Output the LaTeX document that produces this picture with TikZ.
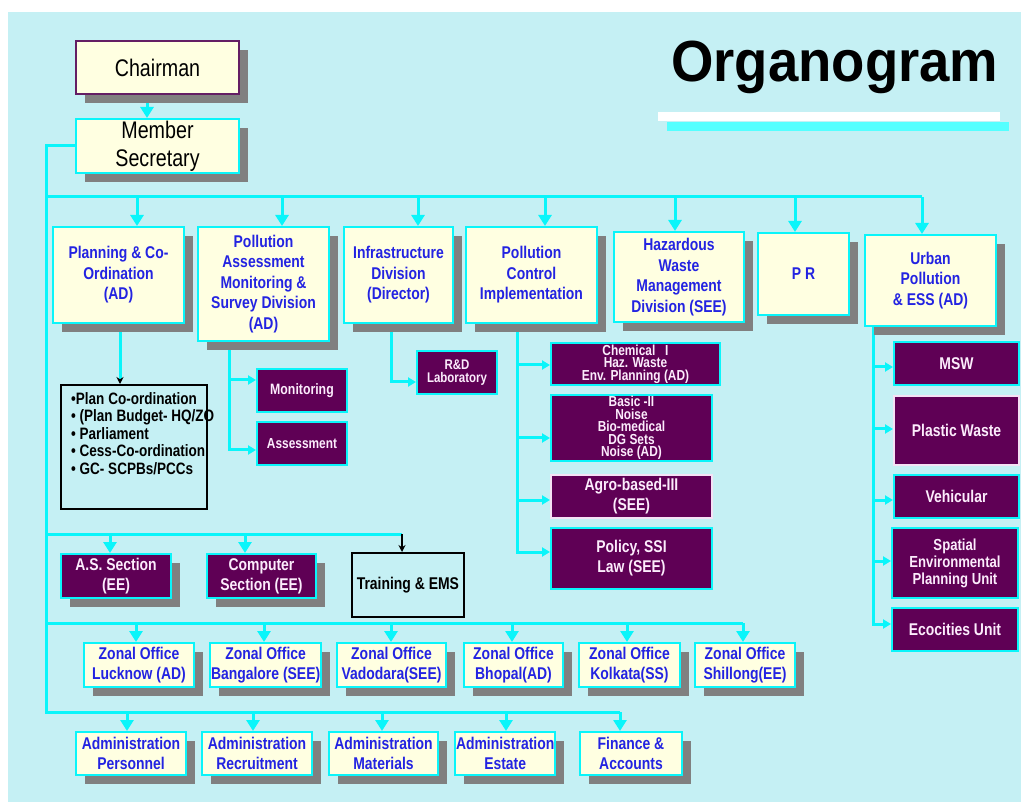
\documentclass[tikz,border=0pt]{standalone}
\usepackage{fontspec}
\setmainfont{Liberation Sans}[FakeStretch=0.82]
\newfontfamily\titlefont{Liberation Sans}[FakeStretch=0.94]
\usetikzlibrary{arrows.meta,shadows}
\pgfdeclarelayer{background}
\pgfsetlayers{background,main}

\definecolor{bgC}{RGB}{197,240,244}
\definecolor{lineC}{RGB}{10,245,250}
\definecolor{creamF}{RGB}{255,255,225}
\definecolor{purpF}{RGB}{95,0,85}
\definecolor{txtBlue}{RGB}{35,35,225}
\definecolor{txtWhite}{RGB}{252,236,252}
\definecolor{chairB}{RGB}{100,30,100}
\definecolor{shadowC}{RGB}{128,128,128}
\definecolor{ruleC}{RGB}{85,255,255}
\definecolor{paleB}{RGB}{245,225,245}

\tikzset{
  box/.style={line width=2pt, inner sep=1pt, align=center, anchor=north west},
  shadowed/.style={drop shadow={shadow xshift=9pt, shadow yshift=-9pt, fill=shadowC, opacity=1}},
  cream/.style={box, shadowed, draw=lineC, fill=creamF, text=txtBlue,
    font=\bfseries\fontsize{17}{20.5}\selectfont},
  purple/.style={box, draw=lineC, fill=purpF, text=txtWhite,
    font=\bfseries\fontsize{17}{20}\selectfont},
  tight/.style={font=\bfseries\fontsize{14.5}{12.5}\selectfont},
  outline/.style={box, draw=black, line width=1.8pt, text=black,
    font=\bfseries\fontsize{17}{20}\selectfont},
  bus/.style={draw=lineC, line width=3pt},
  conn/.style={bus, -{Triangle[width=13pt,length=11pt]}},
  side/.style={bus, -{Triangle[width=9pt,length=8pt]}},
  blackconn/.style={bus, -{Stealth[black,width=7pt,length=7pt]}},
  blackline/.style={draw=black, line width=1.4pt, -{Stealth[black,width=7pt,length=7pt]}},
  titletext/.style={anchor=base west, inner sep=0pt, font=\titlefont\bfseries\fontsize{58}{60}\selectfont}
}

\begin{document}
\begin{tikzpicture}[x=1pt,y=-1pt]
\useasboundingbox (0,0) rectangle (1021,802);
\begin{pgfonlayer}{background}
  \fill[white] (0,0) rectangle (1021,802);
  \fill[bgC] (8,12) rectangle (1021,802);
\end{pgfonlayer}

% title and the two rules beneath it
\node[titletext, text=black] (title) at (671,82) {Organogram};
\fill[white] (658,112) rectangle (1000,121);
\fill[ruleC] (667,122) rectangle (1009,131);

% head of the organisation
\node[cream, draw=chairB, text=black, font=\fontsize{24}{28}\selectfont,
      minimum width=163pt, minimum height=53pt] (chair) at (75,40) {Chairman};
\node[cream, text=black, font=\fontsize{24}{28}\selectfont,
      minimum width=163pt, minimum height=54pt] (msec) at (75,118) {Member\\Secretary};

% divisions
\node[cream, minimum width=131pt, minimum height=96pt] (plan) at (52,226) {Planning \& Co-\\Ordination\\(AD)};
\node[cream, minimum width=131pt, minimum height=114pt] (pams) at (197,226) {Pollution\\Assessment\\Monitoring \&\\Survey Division\\(AD)};
\node[cream, minimum width=109pt, minimum height=96pt] (infra) at (343,226) {Infrastructure\\Division\\(Director)};
\node[cream, minimum width=131pt, minimum height=96pt] (pci) at (465,226) {Pollution\\Control\\Implementation};
\node[cream, minimum width=130pt, minimum height=90pt] (hwm) at (613,231) {Hazardous\\Waste\\Management\\Division (SEE)};
\node[cream, minimum width=91pt, minimum height=82pt] (pr) at (757,232) {P R};
\node[cream, minimum width=131pt, minimum height=91pt] (urban) at (864,234) {Urban\\Pollution\\\& ESS (AD)};

% planning duties list
\node[outline, minimum width=146pt, minimum height=124pt] (plist) at (60,384) {};
\node[anchor=north west, inner sep=0pt, align=left, text=black,
      font=\bfseries\fontsize{16.5}{17.5}\selectfont] (plistText) at (71,392)
  {•Plan Co-ordination\\• (Plan Budget- HQ/ZO\\• Parliament\\• Cess-Co-ordination\\• GC- SCPBs/PCCs};

% units under the divisions
\node[purple, font=\bfseries\fontsize{15}{17}\selectfont, minimum width=90pt, minimum height=43pt] (mon) at (256,368) {Monitoring};
\node[purple, font=\bfseries\fontsize{14.5}{17}\selectfont, minimum width=90pt, minimum height=43pt] (asmt) at (256,421) {Assessment};
\node[purple, font=\bfseries\fontsize{14}{13}\selectfont, minimum width=80pt, minimum height=43pt] (rd) at (416,350) {R\&D\\Laboratory};

\node[purple, tight, minimum width=169pt, minimum height=42pt] (chem) at (550,342) {Chemical~~~I\\Haz. Waste\\Env. Planning (AD)};
\node[purple, tight, minimum width=161pt, minimum height=62pt] (basic) at (550,394) {Basic -II\\Noise\\Bio-medical\\DG Sets\\Noise (AD)};
\node[purple, draw=paleB, minimum width=161pt, minimum height=43pt] (agro) at (550,474) {Agro-based-III\\(SEE)};
\node[purple, minimum width=161pt, minimum height=61pt] (policy) at (550,527) {Policy, SSI\\Law (SEE)};

\node[purple, minimum width=125pt, minimum height=43pt] (msw) at (893,341) {MSW};
\node[purple, draw=paleB, minimum width=125pt, minimum height=69pt] (plastic) at (893,395) {Plastic Waste};
\node[purple, minimum width=125pt, minimum height=43pt] (vehic) at (893,474) {Vehicular};
\node[purple, font=\bfseries\fontsize{16}{17}\selectfont, minimum width=126pt, minimum height=70pt] (spatial) at (891,527) {Spatial\\Environmental\\Planning Unit};
\node[purple, minimum width=126pt, minimum height=43pt] (eco) at (891,607) {Ecocities Unit};

% sections
\node[purple, shadowed, minimum width=110pt, minimum height=44pt] (as) at (60,553) {A.S. Section\\(EE)};
\node[purple, shadowed, minimum width=109pt, minimum height=44pt] (comp) at (206,553) {Computer\\Section (EE)};
\node[outline, minimum width=112pt, minimum height=64pt] (train) at (351,552) {Training \& EMS};

% zonal offices
\node[cream, minimum width=110pt, minimum height=44pt] (lucknow) at (83,642) {Zonal Office\\Lucknow (AD)};
\node[cream, minimum width=110pt, minimum height=44pt] (bangalore) at (209,642) {Zonal Office\\Bangalore (SEE)};
\node[cream, minimum width=109pt, minimum height=44pt] (vadodara) at (336,642) {Zonal Office\\Vadodara(SEE)};
\node[cream, minimum width=99pt, minimum height=44pt] (bhopal) at (463,642) {Zonal Office\\Bhopal(AD)};
\node[cream, minimum width=101pt, minimum height=44pt] (kolkata) at (578,642) {Zonal Office\\Kolkata(SS)};
\node[cream, minimum width=100pt, minimum height=44pt] (shillong) at (694,642) {Zonal Office\\Shillong(EE)};

% administration
\node[cream, minimum width=110pt, minimum height=43pt] (personnel) at (75,731) {Administration\\Personnel};
\node[cream, minimum width=110pt, minimum height=43pt] (recruit) at (201,731) {Administration\\Recruitment};
\node[cream, minimum width=109pt, minimum height=43pt] (materials) at (328,731) {Administration\\Materials};
\node[cream, minimum width=99pt, minimum height=43pt] (estate) at (454,731) {Administration\\Estate};
\node[cream, minimum width=102pt, minimum height=43pt] (finance) at (579,731) {Finance \&\\Accounts};

% connectors run beneath the boxes and their shadows
\begin{pgfonlayer}{background}
  \coordinate (c0) at (147,0);
  \draw[conn] (chair.south -| c0) -- (msec.north -| c0);

  % main trunk down the left side, ending in the administration bus
  \coordinate (trunk) at (46,712);
  \coordinate (b4e) at (620,712);
  \draw[bus] (msec.west) -| (trunk) -- (b4e);

  % division bus
  \coordinate (b1w) at (46,197);
  \coordinate (b1e) at (922,197);
  \draw[bus] (b1w) -- (b1e);
  \foreach \n/\x in {plan/137, pams/282, infra/418, pci/545, hwm/675, pr/795, urban/922} {
    \coordinate (d\n) at (\x,197);
    \draw[conn] (d\n) -- (d\n |- \n.north);
  }

  % section bus
  \coordinate (b2w) at (46,534);
  \coordinate (b2e) at (402,534);
  \draw[bus] (b2w) -- (b2e);
  \foreach \n/\x in {as/110, comp/245} {
    \coordinate (d\n) at (\x,534);
    \draw[conn] (d\n) -- (d\n |- \n.north);
  }
  \draw[blackline] (b2e) -- (b2e |- train.north);

  % zonal office bus
  \coordinate (b3w) at (46,623);
  \coordinate (b3e) at (743,623);
  \draw[bus] (b3w) -- (b3e);
  \foreach \n/\x in {lucknow/136, bangalore/264, vadodara/391, bhopal/512, kolkata/627, shillong/743} {
    \coordinate (d\n) at (\x,623);
    \draw[conn] (d\n) -- (d\n |- \n.north);
  }

  % administration drops
  \foreach \n/\x in {personnel/127, recruit/253, materials/382, estate/506, finance/620} {
    \coordinate (d\n) at (\x,712);
    \draw[conn] (d\n) -- (d\n |- \n.north);
  }

  % planning to its list of duties
  \coordinate (pd) at (120,0);
  \draw[blackconn] (plan.south -| pd) -- (plist.north -| pd);

  % pollution assessment units
  \coordinate (pa1) at (229,380);
  \coordinate (pa2) at (229,450);
  \draw[side] (pams.south -| pa1) |- (pa1 -| mon.west);
  \draw[side] (pams.south -| pa2) |- (pa2 -| asmt.west);

  % infrastructure laboratory
  \coordinate (in1) at (391,382);
  \draw[side] (infra.south -| in1) |- (in1 -| rd.west);

  % pollution control units
  \foreach \n/\y in {chem/365, basic/438, agro/500, policy/552} {
    \coordinate (pc\n) at (517,\y);
    \draw[side] (pci.south -| pc\n) |- (pc\n -| \n.west);
  }

  % urban pollution units
  \foreach \n/\y in {msw/367, plastic/429, vehic/500, spatial/561, eco/624} {
    \coordinate (up\n) at (873,\y);
    \draw[side] (urban.south -| up\n) |- (up\n -| \n.west);
  }
\end{pgfonlayer}
\end{tikzpicture}
\end{document}
